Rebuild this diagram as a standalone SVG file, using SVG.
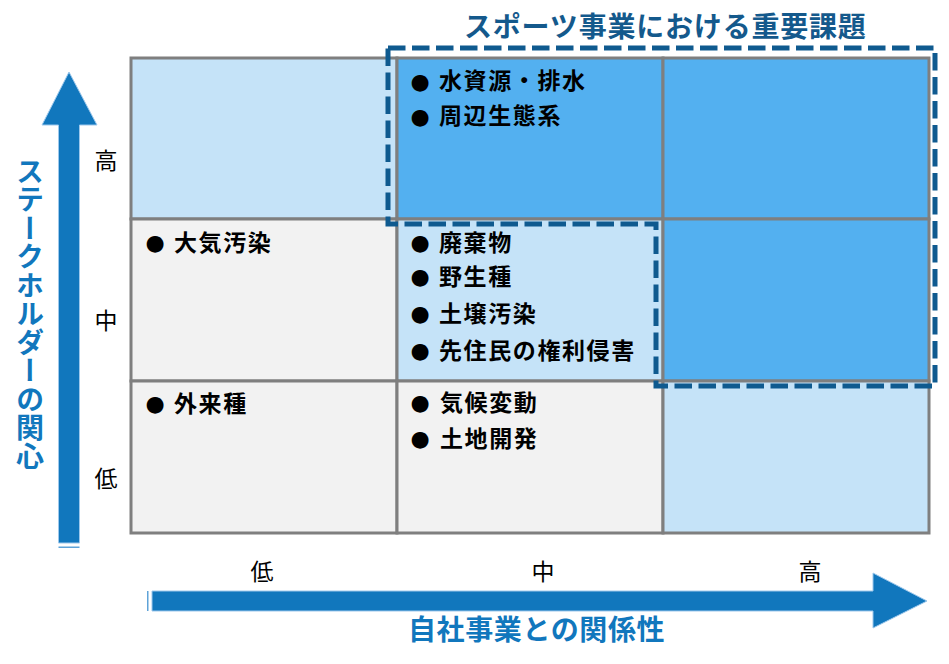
<svg xmlns="http://www.w3.org/2000/svg" width="949" height="664" viewBox="0 0 949 664">
<style>
.cell{stroke:#7f7f7f;stroke-width:3}
.lt{fill:#c5e3f8}
.md{fill:#53b0f0}
.gy{fill:#f2f2f2}
.item{font-family:"Noto Sans CJK JP","Noto Sans",sans-serif;font-size:23px;font-weight:bold;fill:#000;letter-spacing:1.6px}
.bul{font-family:"DejaVu Sans",sans-serif;font-size:22px;fill:#000;text-anchor:middle}
.axl{font-family:"Noto Sans CJK JP",sans-serif;font-size:23px;fill:#000;text-anchor:middle}
.ttl{font-family:"Noto Sans CJK JP",sans-serif;font-size:28px;font-weight:bold}
.arrow{fill:#1177bd;stroke:#9dc8ec;stroke-width:1}
</style>
<rect width="949" height="664" fill="#fff"/>
<g id="grid">
<rect class="cell lt" x="131" y="58" width="266" height="161"/>
<rect class="cell md" x="397" y="58" width="266" height="161"/>
<rect class="cell md" x="663" y="58" width="266" height="161"/>
<rect class="cell gy" x="131" y="219" width="266" height="162"/>
<rect class="cell lt" x="397" y="219" width="266" height="162"/>
<rect class="cell md" x="663" y="219" width="266" height="162"/>
<rect class="cell gy" x="131" y="381" width="266" height="152"/>
<rect class="cell gy" x="397" y="381" width="266" height="152"/>
<rect class="cell lt" x="663" y="381" width="266" height="152"/>
</g>
<g id="cell-mid-high">
<text class="bul" x="420" y="88.5">●</text><text class="item" x="439" y="89">水資源・排水</text>
<text class="bul" x="420" y="123.5">●</text><text class="item" x="439" y="124">周辺生態系</text>
</g>
<g id="cell-low-mid">
<text class="bul" x="155" y="250">●</text><text class="item" x="174" y="250.5">大気汚染</text>
</g>
<g id="cell-mid-mid">
<text class="bul" x="420" y="250">●</text><text class="item" x="439" y="250.5">廃棄物</text>
<text class="bul" x="420" y="284">●</text><text class="item" x="439" y="284.5">野生種</text>
<text class="bul" x="420" y="321">●</text><text class="item" x="439" y="321.5">土壌汚染</text>
<text class="bul" x="420" y="358">●</text><text class="item" x="439" y="358.5">先住民の権利侵害</text>
</g>
<g id="cell-low-low">
<text class="bul" x="155" y="411">●</text><text class="item" x="174" y="411.5">外来種</text>
</g>
<g id="cell-mid-low">
<text class="bul" x="420" y="410">●</text><text class="item" x="440" y="410.5">気候変動</text>
<text class="bul" x="420" y="446">●</text><text class="item" x="440" y="446.5">土地開発</text>
</g>
<g id="key-issues">
<path d="M388,48 H935 V386 H656 V224 H388 Z" fill="none" stroke="#0f5a8f" stroke-width="5" stroke-dasharray="17.5 6.5"/>
<text class="ttl" x="464" y="37" fill="#14598c" letter-spacing="0.8">スポーツ事業における重要課題</text>
</g>
<g id="y-axis">
<path class="arrow" d="M58.5,543 V125 H42 L69,72 L97,125 H79.5 V543 Z"/>
<rect x="58.5" y="546.5" width="21" height="1.5" fill="#5fa3d8"/>
<text class="axl" x="106" y="169">高</text>
<text class="axl" x="106" y="329">中</text>
<text class="axl" x="106" y="487">低</text>
<text class="ttl" x="30" y="157" fill="#1177bd" letter-spacing="0.5" style="writing-mode:vertical-rl">ステークホルダーの関心</text>
</g>
<g id="x-axis">
<path class="arrow" d="M152,591 H873 V573 L927,601 L873,628 V611 H152 Z"/>
<rect x="147" y="591" width="1.5" height="20" fill="#5fa3d8"/>
<text class="axl" x="262" y="580">低</text>
<text class="axl" x="543" y="580">中</text>
<text class="axl" x="810" y="580">高</text>
<text class="ttl" x="408" y="640" fill="#1177bd" letter-spacing="0.6">自社事業との関係性</text>
</g>
</svg>
